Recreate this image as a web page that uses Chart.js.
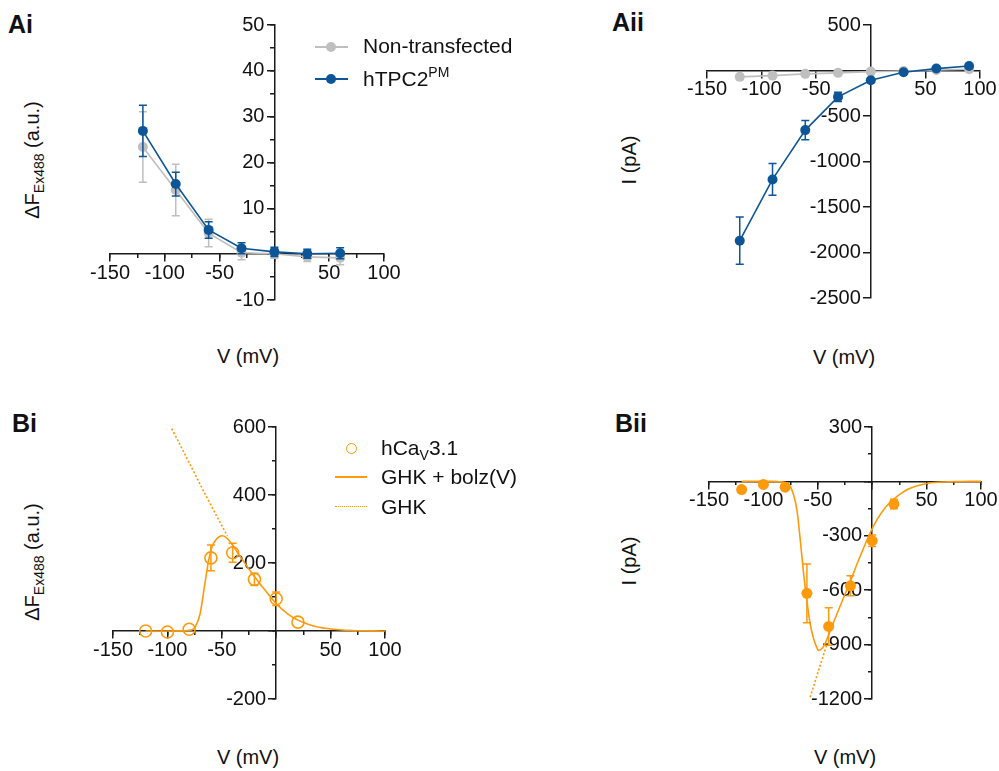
<!DOCTYPE html>
<html lang="en">
<head>
<meta charset="UTF-8" />
<title>TPC2 / CaV3.1 I-V</title>
<script src="https://cdn.jsdelivr.net/npm/chart.js"></script>
<style>
  body { margin: 0; background: #fff; font-family: 'Liberation Sans', Arial, sans-serif; color: #111; }
  #page { position: relative; width: 999px; height: 771px; overflow: hidden; }
  canvas { position: absolute; }
  .lbl { position: absolute; font-weight: bold; font-size: 25px; line-height: 25px; }
  .ttl { position: absolute; font-size: 20px; line-height: 24px; white-space: nowrap; }
  .rot { transform: translate(-50%, -50%) rotate(-90deg); }
  .ctr { transform: translate(-50%, -50%); }
  .leg { position: absolute; font-size: 21px; line-height: 24px; white-space: nowrap; }
  sub { font-size: 14px; vertical-align: -5px; line-height: 0; }
  sup { font-size: 14px; vertical-align: 9px; line-height: 0; }
  .sw { position: absolute; }
</style>
</head>
<body>
<div id="page">
  <canvas id="ai"></canvas>
  <canvas id="aii"></canvas>
  <canvas id="bi"></canvas>
  <canvas id="bii"></canvas>

  <div class="lbl" style="left:8px;top:12px">Ai</div>
  <div class="lbl" style="left:612px;top:10px">Aii</div>
  <div class="lbl" style="left:12px;top:411px">Bi</div>
  <div class="lbl" style="left:615px;top:411px">Bii</div>

  <div class="ttl rot" style="left:32px;top:160px">&Delta;F<sub>Ex488</sub> (a.u.)</div>
  <div class="ttl ctr" style="left:248px;top:356px">V (mV)</div>
  <div class="ttl rot" style="left:629px;top:160px">I (pA)</div>
  <div class="ttl ctr" style="left:844px;top:357px">V (mV)</div>
  <div class="ttl rot" style="left:32px;top:562px">&Delta;F<sub>Ex488</sub> (a.u.)</div>
  <div class="ttl ctr" style="left:248px;top:757px">V (mV)</div>
  <div class="ttl rot" style="left:629px;top:561px">I (pA)</div>
  <div class="ttl ctr" style="left:845px;top:757px">V (mV)</div>

  <!-- legend Ai -->
  <div class="sw" style="left:315px;top:46px;width:33px;height:1.6px;background:#bfbfbf"></div>
  <div class="sw" style="left:326px;top:42px;width:10px;height:10px;border-radius:50%;background:#bfbfbf"></div>
  <div class="leg" style="left:363px;top:34px">Non-transfected</div>
  <div class="sw" style="left:315px;top:78px;width:33px;height:1.6px;background:#0d5596"></div>
  <div class="sw" style="left:326px;top:74px;width:10px;height:10px;border-radius:50%;background:#0d5596"></div>
  <div class="leg" style="left:363px;top:67px">hTPC2<sup>PM</sup></div>

  <!-- legend Bi -->
  <div class="sw" style="left:346px;top:443px;width:9px;height:9px;border-radius:50%;border:1.6px solid #fd9a0c"></div>
  <div class="leg" style="left:381px;top:436px">hCa<sub>V</sub>3.1</div>
  <div class="sw" style="left:335px;top:476px;width:32px;height:1.6px;background:#fd9a0c"></div>
  <div class="leg" style="left:381px;top:465px">GHK + bolz(V)</div>
  <div class="sw" style="left:335px;top:506px;width:32px;height:0;border-top:1.6px dotted #fd9a0c"></div>
  <div class="leg" style="left:381px;top:495px">GHK</div>
</div>

<script>
  // ---- Ai : fluorescence, hTPC2 vs non-transfected ----
  const aiVoltage = [-120, -90, -60, -30, 0, 30, 60];
  const aiHtpc2 = [26.9, 15.3, 5.3, 1.3, 0.5, 0.1, 0.2];
  const aiHtpc2Err = [5.6, 2.6, 1.8, 1.2, 1.0, 1.0, 1.2];
  const aiNonTransfected = [23.4, 14.0, 4.6, 0.3, 0.1, -0.6, -0.8];
  const aiNonTransfectedErr = [7.7, 5.6, 3.0, 1.5, 1.0, 1.0, 1.5];
  const aiXTicks = [-150, -100, -50, 0, 50, 100];
  const aiYTicks = [-10, 0, 10, 20, 30, 40, 50];

  // ---- Aii : current, hTPC2 vs non-transfected ----
  const aiiVoltage = [-120, -90, -60, -30, 0, 30, 60, 90];
  const aiiHtpc2 = [-1870, -1197, -655, -290, -107, -19, 21, 50];
  const aiiHtpc2Err = [260, 175, 105, 50, 0, 0, 0, 0];
  const aiiNonTransfected = [-70, -56, -37, -26, -12, -5, 6, 14];
  const aiiXTicks = [-150, -100, -50, 0, 50, 100];
  const aiiYTicks = [-2500, -2000, -1500, -1000, -500, 0, 500];

  // ---- Bi : fluorescence, hCaV3.1 ----
  const biVoltage = [-120, -100, -80, -60, -40, -20, 0, 20];
  const biCav31 = [0, -3, 5, 215, 230, 152, 95, 26];
  const biCav31Err = [0, 0, 0, 38, 28, 18, 20, 0];
  const biFitV = [-120, -110, -100, -90, -85, -80, -77, -74, -70, -66, -62, -59, -55, -52, -50, -48, -45, -40, -35, -30, -25, -20, -15, -10, -5, 0, 5, 10, 15, 20, 25, 30, 35, 40, 45, 50, 60, 70, 80, 90, 100];
  const biFit = [0, 0, 0, 0.3, 0.8, 2, 4, 15, 50, 130, 209, 248, 270, 278, 280, 279, 272, 252, 228, 205, 182, 160, 139, 119, 99, 80, 65, 52, 41, 32, 25, 19, 14, 11, 8, 6, 3, 1.5, 0.7, 0.3, 0];
  const biGhkV = [-96, -90, -80, -70, -60, -50, -45];
  const biGhk = [595, 558, 495, 432, 370, 310, 280];
  const biXTicks = [-150, -100, -50, 0, 50, 100];
  const biYTicks = [-200, 0, 200, 400, 600];

  // ---- Bii : current, hCaV3.1 ----
  const biiVoltage = [-120, -100, -80, -60, -40, -20, 0, 20];
  const biiCav31 = [-45, -17, -32, -617, -800, -576, -327, -125];
  const biiCav31Err = [0, 0, 0, 162, 103, 55, 32, 26];
  const biiFitV = [-120, -110, -100, -90, -85, -80, -77, -75, -72, -69, -66, -63, -60, -57, -54, -51, -49.5, -46, -43, -40, -35, -30, -25, -20, -15, -10, -5, 0, 5, 10, 15, 20, 25, 30, 35, 40, 50, 60, 70, 80, 90, 100];
  const biiFit = [0, 0, 0, 0, -2, -6, -15, -30, -80, -165, -330, -510, -660, -785, -865, -915, -932, -920, -890, -845, -770, -695, -622, -550, -472, -398, -326, -260, -205, -160, -125, -97, -73, -53, -38, -27, -12, -5, -2, -1, 0, 0];
  const biiGhkV = [-57, -54, -51, -48, -45, -42];
  const biiGhk = [-1190, -1133, -1075, -1018, -962, -905];
  const biiXTicks = [-150, -100, -50, 0, 50, 100];
  const biiYTicks = [-1200, -900, -600, -300, 0, 300];

  const FONT = "'Liberation Sans', Arial, sans-serif";
  const AXIS = '#1a1a1a';
  const BLUE = '#0d5596';
  const GREY = '#bfbfbf';
  const ORANGE = '#fd9a0c';

  const pts = (xs, ys) => xs.map((x, i) => ({ x: x, y: ys[i] }));

  // vertical error bars with caps, drawn through the chart's own scales
  const errorBars = {
    id: 'errorBars',
    beforeDatasetDraw(chart, args) {
      const ds = chart.data.datasets[args.index];
      if (!ds.err) return;
      const xs = chart.scales[args.meta.xAxisID];
      const ys = chart.scales[args.meta.yAxisID];
      const ctx = chart.ctx;
      ctx.save();
      ctx.strokeStyle = ds.borderColor;
      ctx.lineWidth = 1.5;
      ds.data.forEach((p, i) => {
        const e = ds.err[i];
        if (!e) return;
        const x = xs.getPixelForValue(p.x);
        const y1 = ys.getPixelForValue(p.y + e);
        const y2 = ys.getPixelForValue(p.y - e);
        ctx.beginPath();
        ctx.moveTo(x, y1); ctx.lineTo(x, y2);
        ctx.moveTo(x - 4, y1); ctx.lineTo(x + 4, y1);
        ctx.moveTo(x - 4, y2); ctx.lineTo(x + 4, y2);
        ctx.stroke();
      });
      ctx.restore();
    }
  };

  function majorAxis(axis, min, max, values) {
    // a y axis crossing at x=0 gets its labels right-aligned on the axis line,
    // so an en space pushes them clear of the tick marks
    const tail = axis === 'y' ? '\u2002' : '';
    return {
      type: 'linear', axis: axis, min: min, max: max,
      position: axis === 'x' ? { y: 0 } : { x: 0 },
      afterBuildTicks: sc => { sc.ticks = values.map(v => ({ value: v })); },
      ticks: {
        autoSkip: false, maxRotation: 0, padding: 0,
        color: '#111', font: { family: FONT, size: 20 },
        callback: v => (v === 0 ? '' : String(v) + tail)
      },
      grid: { drawOnChartArea: false, drawTicks: true, tickLength: 7, color: AXIS, lineWidth: 1.5 },
      border: { display: true, color: AXIS, width: 1.5 }
    };
  }

  function minorAxis(axis, min, max, step) {
    return {
      type: 'linear', axis: axis, min: min, max: max,
      position: axis === 'x' ? { y: 0 } : { x: 0 },
      ticks: { stepSize: step, autoSkip: false, maxRotation: 0, callback: () => '' },
      grid: { drawOnChartArea: false, drawTicks: true, tickLength: 4, color: AXIS, lineWidth: 1.5 },
      border: { display: false }
    };
  }

  // plot rectangle (page pixels) -> canvas placed around it
  function panel(id, rect, xr, yr, xTicks, yTicks, xMinor, yMinor, datasets) {
    const pad = { left: 34, right: 34, top: 20, bottom: 34 };
    const cv = document.getElementById(id);
    cv.width = rect.r - rect.l + pad.left + pad.right;
    cv.height = rect.b - rect.t + pad.top + pad.bottom;
    cv.style.left = (rect.l - pad.left) + 'px';
    cv.style.top = (rect.t - pad.top) + 'px';
    const scales = {
      x: majorAxis('x', xr[0], xr[1], xTicks),
      y: majorAxis('y', yr[0], yr[1], yTicks)
    };
    if (xMinor) scales.xm = minorAxis('x', xr[0], xr[1], xMinor);
    if (yMinor) scales.ym = minorAxis('y', yr[0], yr[1], yMinor);
    return new Chart(cv.getContext('2d'), {
      type: 'scatter',
      data: { datasets: datasets },
      options: {
        responsive: false,
        animation: false,
        events: [],
        layout: { padding: pad },
        scales: scales,
        plugins: { legend: { display: false }, tooltip: { enabled: false } }
      },
      plugins: [errorBars]
    });
  }

  const marker = (color, r) => ({
    borderColor: color, backgroundColor: color, pointBackgroundColor: color,
    pointBorderColor: color, pointRadius: r, pointBorderWidth: 0
  });

  // Ai
  panel('ai', { l: 110, r: 384, t: 25, b: 300 }, [-150, 100], [-10, 50], aiXTicks, aiYTicks, 25, 5, [
    Object.assign({ data: pts(aiVoltage, aiHtpc2), err: aiHtpc2Err, showLine: true, borderWidth: 1.6 }, marker(BLUE, 5)),
    Object.assign({ data: pts(aiVoltage, aiNonTransfected), err: aiNonTransfectedErr, showLine: true, borderWidth: 1.6 }, marker(GREY, 5))
  ]);

  // Aii
  panel('aii', { l: 707, r: 980, t: 25, b: 298 }, [-150, 100], [-2500, 500], aiiXTicks, aiiYTicks, 0, 0, [
    Object.assign({ data: pts(aiiVoltage, aiiHtpc2), err: aiiHtpc2Err, showLine: true, borderWidth: 1.6 }, marker(BLUE, 5)),
    Object.assign({ data: pts(aiiVoltage, aiiNonTransfected), showLine: true, borderWidth: 1.6 }, marker(GREY, 5))
  ]);

  // Bi
  panel('bi', { l: 113, r: 385, t: 427, b: 699 }, [-150, 100], [-200, 600], biXTicks, biYTicks, 25, 100, [
    { data: pts(biVoltage, biCav31), err: biCav31Err, showLine: false, borderColor: ORANGE,
      pointBorderColor: ORANGE, pointBackgroundColor: 'rgba(255,255,255,0)', pointRadius: 6, pointBorderWidth: 1.6 },
    { data: pts(biFitV, biFit), showLine: true, borderColor: ORANGE, borderWidth: 1.6, pointRadius: 0, cubicInterpolationMode: 'monotone' },
    { data: pts(biGhkV, biGhk), showLine: true, borderColor: ORANGE, borderWidth: 1.6, borderDash: [2, 2], pointRadius: 0, cubicInterpolationMode: 'monotone' }
  ]);

  // Bii
  panel('bii', { l: 709, r: 981, t: 427, b: 699 }, [-150, 100], [-1200, 300], biiXTicks, biiYTicks, 25, 150, [
    Object.assign({ data: pts(biiVoltage, biiCav31), err: biiCav31Err, showLine: false }, marker(ORANGE, 5.5)),
    { data: pts(biiFitV, biiFit), showLine: true, borderColor: ORANGE, borderWidth: 1.6, pointRadius: 0, cubicInterpolationMode: 'monotone' },
    { data: pts(biiGhkV, biiGhk), showLine: true, borderColor: ORANGE, borderWidth: 1.6, borderDash: [2, 2], pointRadius: 0, cubicInterpolationMode: 'monotone' }
  ]);
</script>
</body>
</html>
